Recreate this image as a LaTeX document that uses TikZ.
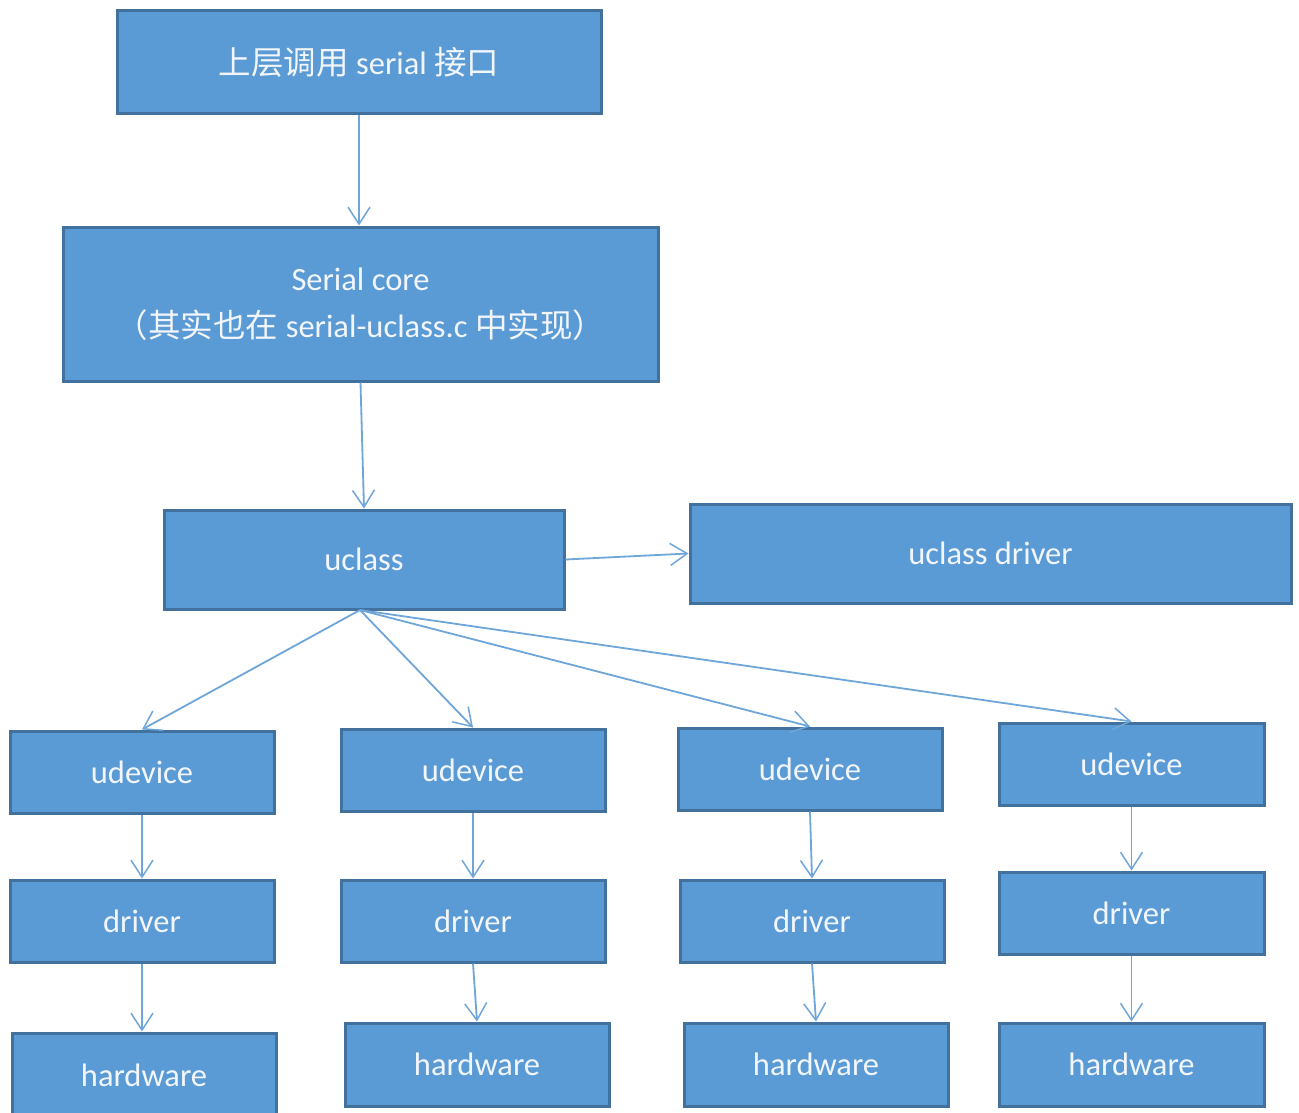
\documentclass[tikz,border=0pt]{standalone}
\usepackage{fontspec}
\setmainfont{Carlito}
\newfontfamily\cjk{Noto Sans CJK SC}
\usetikzlibrary{arrows.meta}
\definecolor{boxfill}{HTML}{5B9BD5}
\definecolor{boxline}{HTML}{41719C}
\definecolor{arrowc}{HTML}{6FA6DA}
\definecolor{txt}{HTML}{F2F6FB}
\tikzset{
  blk/.style={draw=boxline, line width=3pt, fill=boxfill, text=txt, inner sep=0pt,
    font=\fontsize{32.5}{39}\selectfont, align=center},
  conn/.style={draw=arrowc, line width=1.8pt, -{Straight Barb[length=17pt,width=22pt,line width=1.5pt]}}
}
\newcommand{\bx}[6]{\node[blk, minimum width={#4-#2}, minimum height={#5-#3}] (#1) at ({(#2+#4)/2},{(#3+#5)/2}) {#6};}
\begin{document}
\begin{tikzpicture}[x=1pt,y=-1pt]
\useasboundingbox (0,0) rectangle (1299,1113);
\fill[white] (0,0) rectangle (1299,1113);
\bx{top}{117}{11}{601}{114}{{\cjk 上层调用} serial {\cjk 接口}}
\bx{core}{63}{227}{658}{381}{Serial core\\[8pt]{\cjk （其实也在} serial-uclass.c {\cjk 中实现）}}
\bx{uc}{164}{510}{564}{609}{uclass}
\bx{ucd}{690}{504}{1291}{603}{uclass driver}
\bx{ua}{10}{731}{274}{813}{udevice}
\bx{da}{10}{880}{274}{962}{driver}
\bx{ha}{12}{1033}{276}{1118}{hardware}
\bx{ub}{341}{729}{605}{811}{udevice}
\bx{db}{341}{880}{605}{962}{driver}
\bx{hb}{345}{1023}{609}{1106}{hardware}
\bx{uc3}{678}{728}{942}{810}{udevice}
\bx{dc}{680}{880}{944}{962}{driver}
\bx{hc}{684}{1023}{948}{1106}{hardware}
\bx{ud}{999}{723}{1264}{805}{udevice}
\bx{dd}{999}{872}{1264}{954}{driver}
\bx{hd}{999}{1023}{1264}{1106}{hardware}
\draw[conn] (top.south) -- (core.north -| top.south);
\draw[conn] (core.south) -- (uc.north);
\draw[conn] (uc.east) -- (ucd.west);
\coordinate (fan) at (360,610);
\draw[conn] (fan) -- (ua.north);
\draw[conn] (fan) -- (ub.north);
\draw[conn] (fan) -- (uc3.north);
\draw[conn] (fan) -- (ud.north);
\draw[conn] (ua.south) -- (da.north);
\draw[conn] (da.south) -- (ha.north -| da.south);
\draw[conn] (ub.south) -- (db.north);
\draw[conn] (db.south) -- (hb.north);
\draw[conn] (uc3.south) -- (dc.north);
\draw[conn] (dc.south) -- (hc.north);
\draw[conn] (ud.south) -- (dd.north);
\draw[conn] (dd.south) -- (hd.north);
\end{tikzpicture}
\end{document}
